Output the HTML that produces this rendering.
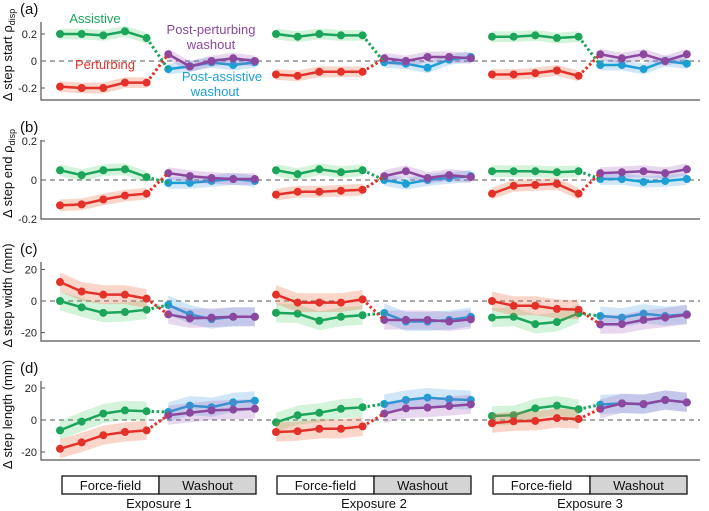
<!DOCTYPE html>
<html><head><meta charset="utf-8"><style>
body{margin:0;background:#fff;font-family:"Liberation Sans",sans-serif}
svg{display:block}
</style></head><body>
<svg id="chart" width="709" height="511" xmlns="http://www.w3.org/2000/svg" font-family="Liberation Sans, sans-serif"></svg>
<script>
const exposures = ["Exposure 1","Exposure 2","Exposure 3"];
const yTicksA = [-0.2,0,0.2], yTicksB = [-0.2,0,0.2], yTicksC = [-20,0,20], yTicksD = [-20,0,20];
const tickLabelsA = ["-0.2","0","0.2"], tickLabelsB = ["-0.2","0","0.2"], tickLabelsC = ["-20","0","20"], tickLabelsD = ["-20","0","20"];
// panel a
const aGreen=[[.20,.20,.19,.22,.17],[.20,.18,.20,.19,.19],[.18,.18,.19,.17,.18]];
const aRed=[[-.19,-.20,-.20,-.16,-.16],[-.10,-.11,-.08,-.08,-.08],[-.10,-.10,-.09,-.07,-.11]];
const aPurple=[[.05,-.04,0,.02,0],[.02,0,.03,.03,.02],[.05,.02,.05,0,.05]];
const aBlue=[[-.06,-.04,-.01,-.03,-.01],[-.01,-.02,-.05,.01,.03],[-.03,-.03,-.06,0,-.02]];
// panel b
const bGreen=[[.05,.025,.05,.055,.015],[.05,.03,.055,.04,.05],[.045,.045,.045,.04,.045]];
const bRed=[[-.13,-.125,-.10,-.08,-.07],[-.075,-.06,-.06,-.055,-.05],[-.07,-.03,-.025,-.02,-.07]];
const bPurple=[[.035,.02,.01,.005,.005],[.02,.045,.01,.025,.015],[.035,.04,.045,.035,.055]];
const bBlue=[[-.015,-.015,-.005,.005,-.005],[0,-.02,0,.01,.02],[.005,.005,-.01,-.005,.005]];
// panel c
const cRed=[[12,6,4,4,1.5],[4,-1,-1,-1,1],[0,-3,-3,-5,-5.5]];
const cGreen=[[0,-4,-7.5,-7,-5.5],[-7.5,-8,-12.5,-10,-9],[-10.5,-10,-14.6,-13.3,-7.8]];
const cBlue=[[-2.5,-8.5,-11.5,-10,-10],[-7.6,-13,-13,-12,-10],[-9.5,-10.5,-8,-9.5,-8.4]];
const cPurple=[[-8.5,-11,-10.5,-10,-10],[-12,-12,-12,-13,-11.6],[-14.8,-14.6,-12,-10.5,-8.7]];
// panel d
const dGreen=[[-6.5,-1,4,6,5.5],[-1.5,3,4.5,7,8],[2.5,3,7.3,9,6.7]];
const dRed=[[-18,-14,-9.5,-7.5,-6.5],[-7.5,-7,-5.5,-5.5,-4],[-2,-0.8,-0.6,1.2,0.6]];
const dBlue=[[5,9,8,11,12],[10,12.5,14,13,12.5],[9.6,10.4,9.8,12.5,11]];
const dPurple=[[3,4.5,6,6.5,7],[4,7.3,7.7,8.7,9.8],[7,10.4,10,12.5,11]];
const errA=0.04, errB=0.03, errC=6, errD=6;

const NS="http://www.w3.org/2000/svg", svg=document.getElementById('chart');
function mk(tag,attrs,parent){const e=document.createElementNS(NS,tag);for(const k in attrs)e.setAttribute(k,attrs[k]);(parent||svg).appendChild(e);return e;}
const C={green:"#1aa55a",red:"#e3312a",blue:"#1b9fd5",purple:"#8c479e"};
const FILL={green:"rgba(60,200,90,0.22)",red:"rgba(240,120,80,0.3)",blue:"rgba(90,170,230,0.28)",purple:"rgba(160,100,190,0.25)"};
const expStart=[60,276,492], dx=21.65;
function xPos(e,i){return expStart[e]+i*dx;}

const panels=[
 {id:"a",y0:61,k:135,top:22,bot:100,ticks:yTicksA,labels:tickLabelsA,err:errA,ff:[aGreen,aRed],wo:[aBlue,aPurple],title:"Δ step start ρ",sub:"disp"},
 {id:"b",y0:180,k:195,top:140,bot:219,ticks:yTicksB,labels:tickLabelsB,err:errB,ff:[bGreen,bRed],wo:[bBlue,bPurple],title:"Δ step end ρ",sub:"disp"},
 {id:"c",y0:301,k:1.58,top:262,bot:341,ticks:yTicksC,labels:tickLabelsC,err:errC,ff:[cGreen,cRed],wo:[cBlue,cPurple],title:"Δ step width (mm)"},
 {id:"d",y0:420,k:1.6,top:381,bot:460,ticks:yTicksD,labels:tickLabelsD,err:errD,ff:[dGreen,dRed],wo:[dBlue,dPurple],title:"Δ step length (mm)"}
];
panels.forEach(p=>{
 const g=mk('g',{});
 
 
 const y=v=>p.y0-v*p.k;
 const ax=mk('path',{d:`M41 ${p.top}V${p.bot}H700`,stroke:"#555",fill:"none","stroke-width":1.2},g);
 
 
 const zl=mk('line',{x1:41,x2:700,y1:y(0),y2:y(0),stroke:"#555","stroke-dasharray":"5,4"},g);
 
 
 p.ticks.forEach((t,i)=>{
  if(y(t)<p.top-2)return;
  mk('line',{x1:41,x2:45,y1:y(t),y2:y(t),stroke:"#555"},g);
  const tx=mk('text',{x:37,y:y(t)+4,"text-anchor":"end","font-size":11,fill:"#222"},g);tx.textContent=p.labels[i];
  
  
 });
 const pl=mk('text',{x:20,y:p.top-8,"font-size":15,fill:"#111"},g);pl.textContent="("+p.id+")";
 
 
 const yt=mk('text',{transform:`translate(12 ${(p.top+p.bot)/2-6}) rotate(-90)`,"text-anchor":"middle","font-size":13,fill:"#111"},g);
 yt.textContent=p.title;
 if(p.sub){const s=mk('tspan',{"font-size":9,dy:3},yt);s.textContent=p.sub;}
 
 
 const series=(arr,col,offset,e)=>{
  const v=arr[e];const xs=v.map((_,i)=>xPos(e,i+offset));
  let up=xs.map((x,i)=>`${x},${y(v[i]+p.err)}`).join(' ');
  let dn=xs.map((x,i)=>`${x},${y(v[i]-p.err)}`).reverse().join(' ');
  const b=mk('polygon',{points:up+' '+dn,fill:FILL[col]},g);
  
  
  const l=mk('polyline',{points:xs.map((x,i)=>`${x},${y(v[i])}`).join(' '),fill:"none",stroke:C[col],"stroke-width":2.5},g);
  
  
  xs.forEach((x,i)=>{const c=mk('circle',{cx:x,cy:y(v[i]),r:4,fill:C[col]},g);
   
   });
 };
 for(let e=0;e<3;e++){
  series(p.wo[0],'blue',5,e);series(p.wo[1],'purple',5,e);
  series(p.ff[0],'green',0,e);series(p.ff[1],'red',0,e);
  [[p.ff[0],p.wo[0],'green'],[p.ff[1],p.wo[1],'red']].forEach(([f,w,col])=>{
   const d=mk('line',{x1:xPos(e,4),y1:y(f[e][4]),x2:xPos(e,5),y2:y(w[e][0]),stroke:C[col],"stroke-width":3,"stroke-dasharray":"2.5,2.5"},g);
   
   
  });
 }
});
[["Assistive",95,23,"green"],["Perturbing",105,69,"red"],["Post-perturbing",211,34,"purple"],["washout",211,49,"purple"],["Post-assistive",222,81,"blue"],["washout",215,96,"blue"]].forEach(a=>{
 const t=mk('text',{x:a[1],y:a[2],"text-anchor":"middle","font-size":13,fill:C[a[3]]});t.textContent=a[0];
 
 
});
const boxL=[62,277,493], boxW=194;
exposures.forEach((ex,e)=>{
 const g=mk('g',{});
 
 
 mk('rect',{x:boxL[e],y:476,width:boxW/2,height:18,fill:"#fff",stroke:"#111","stroke-width":1.3},g);
 mk('rect',{x:boxL[e]+boxW/2,y:476,width:boxW/2,height:18,fill:"#d4d4d4",stroke:"#111","stroke-width":1.3},g);
 const t1=mk('text',{x:boxL[e]+boxW/4,y:490,"text-anchor":"middle","font-size":13,fill:"#111"},g);t1.textContent="Force-field";
 const t2=mk('text',{x:boxL[e]+3*boxW/4,y:490,"text-anchor":"middle","font-size":13,fill:"#111"},g);t2.textContent="Washout";
 const t3=mk('text',{x:boxL[e]+boxW/2,y:508,"text-anchor":"middle","font-size":13,fill:"#111"},g);t3.textContent=ex;
 
 
});
</script>
</body></html>
